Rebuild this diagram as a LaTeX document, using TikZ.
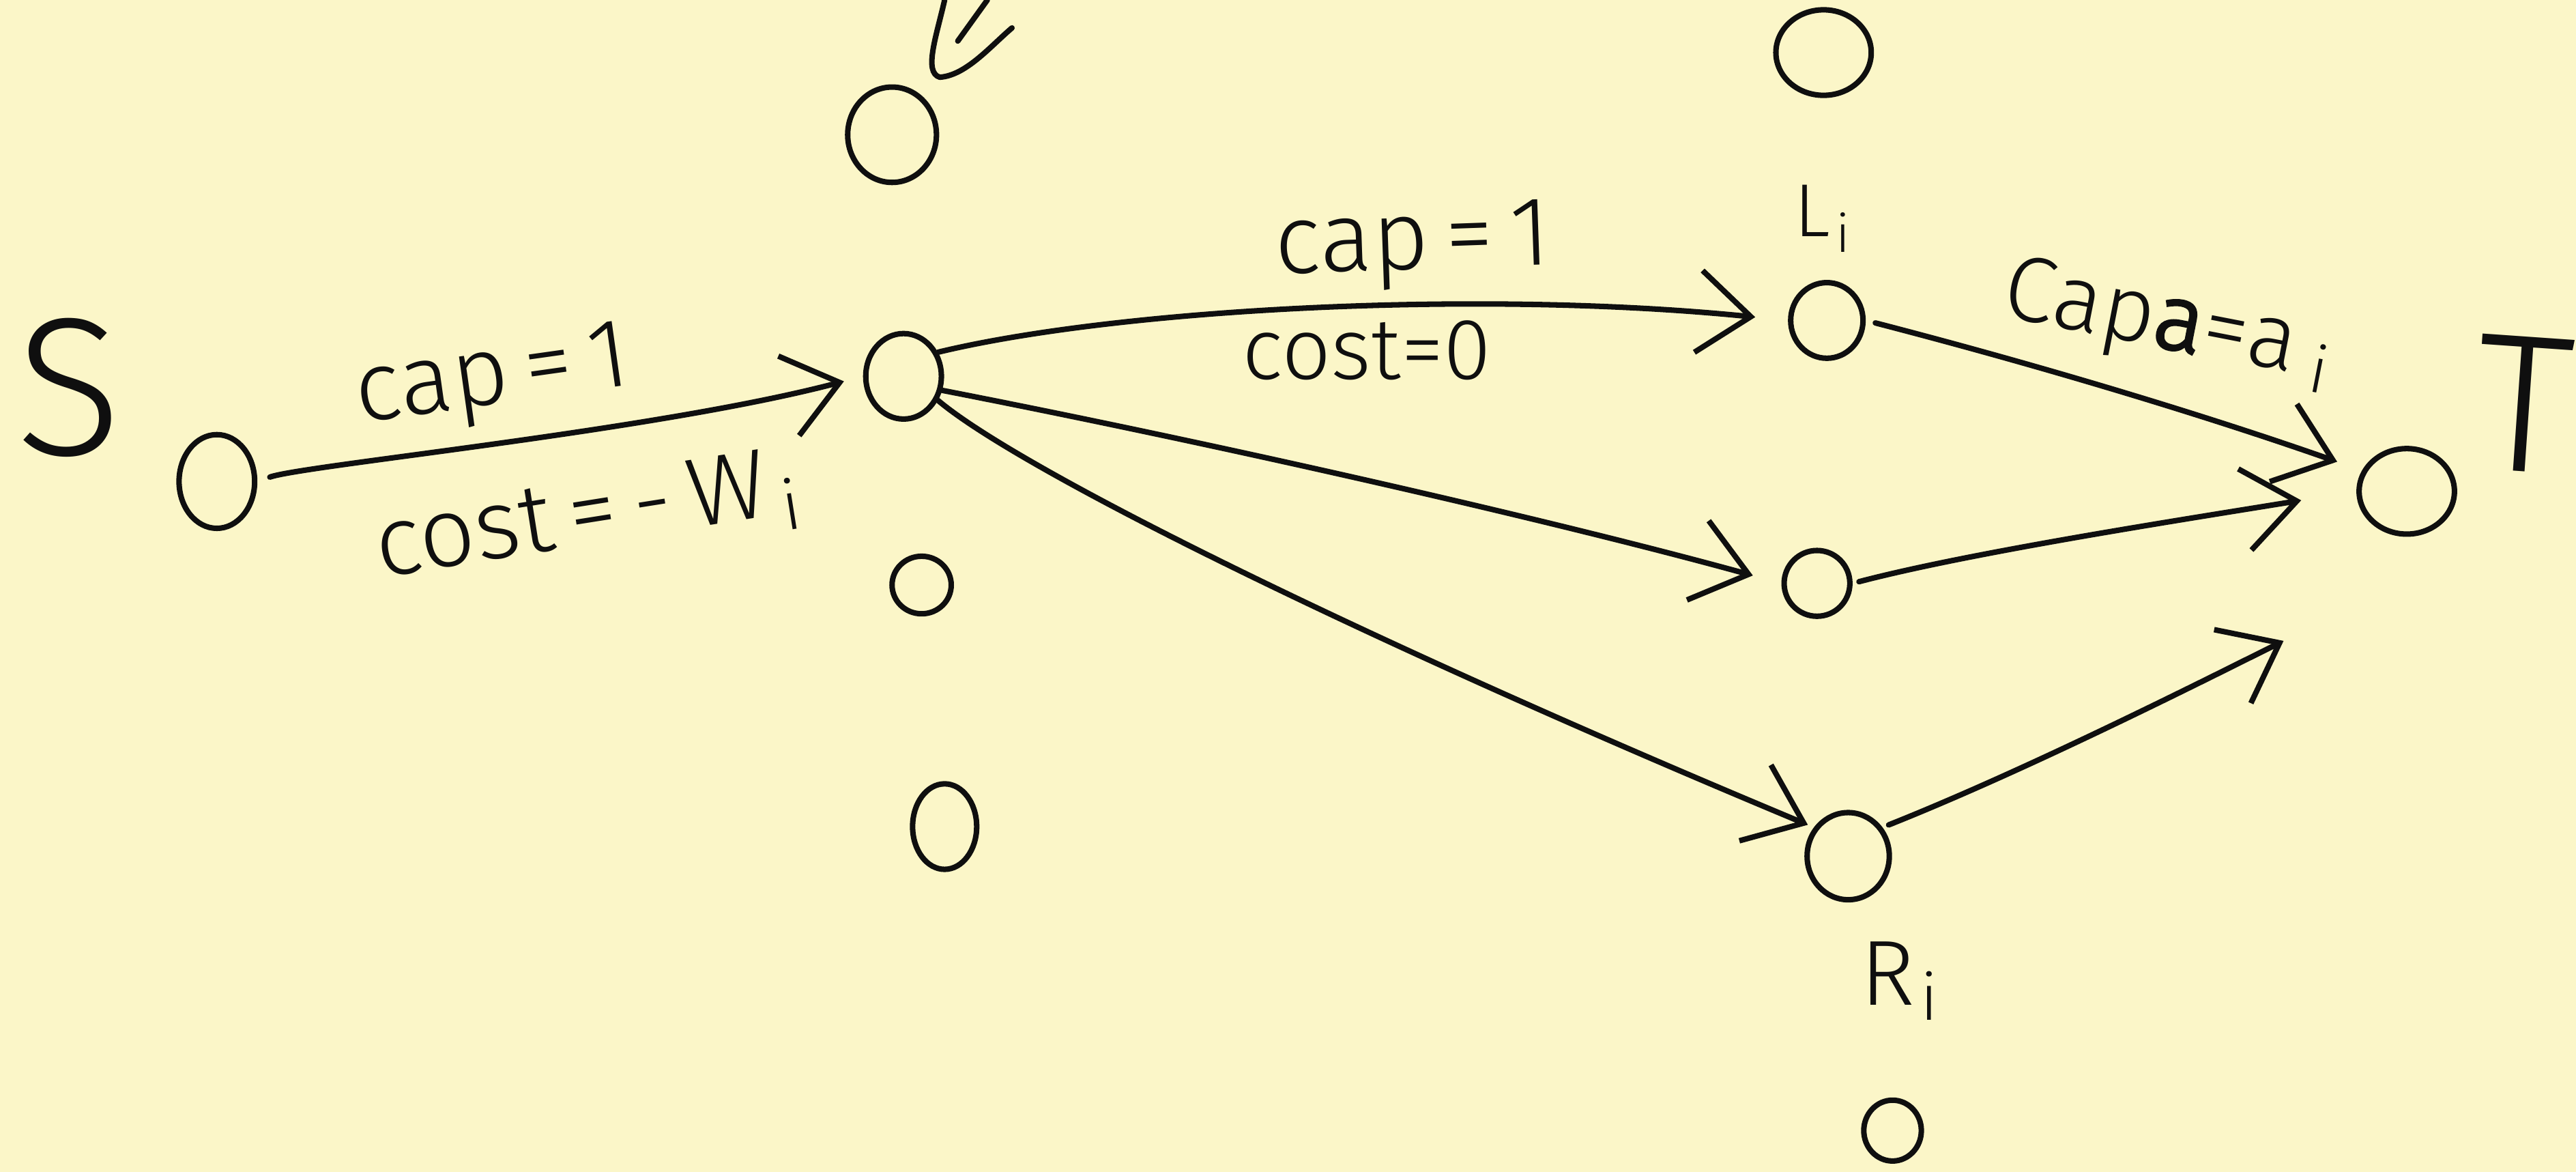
\documentclass[tikz,border=0pt]{standalone}
\usepackage{fontspec}
\setmainfont{Fira Sans}[UprightFont={* Light}, BoldFont={* Light}, ItalicFont={* Light Italic}]
\usetikzlibrary{arrows.meta,shapes.geometric}
\definecolor{paper}{RGB}{251,246,200}
\definecolor{ink}{RGB}{15,15,15}
\begin{document}
\begin{tikzpicture}[x=0.01cm,y=-0.01cm,
  inkline/.style={draw=ink, line width=0.95pt, line cap=round, line join=round},
  vert/.style={ellipse, draw=ink, line width=0.95pt, inner sep=0pt},
  flow/.style={inkline, -{Straight Barb[length=3.2mm,width=5mm,line width=0.95pt]}},
  lbl/.style={text=ink, font=\fontsize{17}{20}\selectfont, inner sep=0pt},
  sml/.style={text=ink, font=\fontsize{15}{18}\selectfont, inner sep=0pt},
  big/.style={text=ink, font=\fontsize{34}{38}\selectfont, inner sep=0pt},
]
\fill[paper] (0,0) rectangle (1568,713);
\useasboundingbox (0,0) rectangle (1568,713);

% vertices
\node[vert, minimum width=0.46cm, minimum height=0.57cm] (s) at (132,293) {};
\node[vert, minimum width=0.54cm, minimum height=0.58cm] (top1) at (543,82) {};
\node[vert, minimum width=0.46cm, minimum height=0.52cm] (A) at (550,229) {};
\node[vert, minimum width=0.36cm, minimum height=0.35cm] (c1) at (561,356) {};
\node[vert, minimum width=0.39cm, minimum height=0.52cm] (c2) at (575,503) {};
\node[vert, minimum width=0.58cm, minimum height=0.52cm] (top2) at (1110,32) {};
\node[vert, minimum width=0.44cm, minimum height=0.46cm] (L) at (1112,195) {};
\node[vert, minimum width=0.40cm, minimum height=0.40cm] (M) at (1106,355) {};
\node[vert, minimum width=0.50cm, minimum height=0.53cm] (R) at (1125,521) {};
\node[vert, minimum width=0.35cm, minimum height=0.37cm] (bot) at (1152,688) {};
\node[vert, minimum width=0.58cm, minimum height=0.52cm] (T) at (1465,299) {};

% letters
\node[big] (Slab) at (42,236) {S};
\node[big, rotate=-4] (Tlab) at (1536,246) {T};
\node[text=ink, font=\fontsize{13}{15}\selectfont, inner sep=0pt] (Llab) at (1110,133) {L\kern1pt\textsubscript{i}};
\node[text=ink, font=\fontsize{16}{18}\selectfont, inner sep=0pt] (Rlab) at (1157,597) {R\kern1pt\textsubscript{i}};

% connectors
\coordinate (rtip) at (1390,390);
\draw[flow, shorten <=0.08cm, shorten >=0.12cm] (s.east) .. controls (185,283) and (400,262) .. (A.west);
\draw[flow, shorten >=0.2cm] (A.35) .. controls (680,188) and (900,176) .. (L.west);
\draw[flow, shorten >=0.18cm] (A.-20) .. controls (750,272) and (950,318) .. (M.west);
\draw[flow, shorten >=0.04cm] (A.-35) .. controls (620,285) and (820,385) .. (R.140);
\draw[flow, shorten <=0.06cm, shorten >=0.16cm] (L.east) .. controls (1240,222) and (1340,252) .. (T.155);
\draw[flow, shorten <=0.04cm, shorten >=0.34cm] (M.east) .. controls (1200,336) and (1330,316) .. (T.west);
\draw[flow, shorten <=0.04cm] (R.40) .. controls (1230,470) and (1330,420) .. (rtip);

% arrow fragment at the top
\draw[inkline] (601,0) -- (583,25);
\draw[inkline] (575,0) .. controls (570,22) and (562,44) .. (572,47) .. controls (588,46) and (603,28) .. (616,17);

% edge labels
\node[lbl, rotate=8] (cap1) at (300,232) {cap\,=\,1};
\node[lbl, rotate=9] (cost1) at (358,316) {cost\,=\,-\,W\kern2pt\textsubscript{i}};
\node[lbl, rotate=2] (cap2) at (860,150) {cap\,=\,1};
\node[sml] (cost2) at (832,213) {cost=0};
\node[text=ink, font=\fontsize{16}{19}\selectfont, inner sep=0pt, rotate=-11] (cap3) at (1320,198) {Cap{\addfontfeature{FakeBold=3}a}=a\kern3pt\textsubscript{i}};
\end{tikzpicture}
\end{document}
